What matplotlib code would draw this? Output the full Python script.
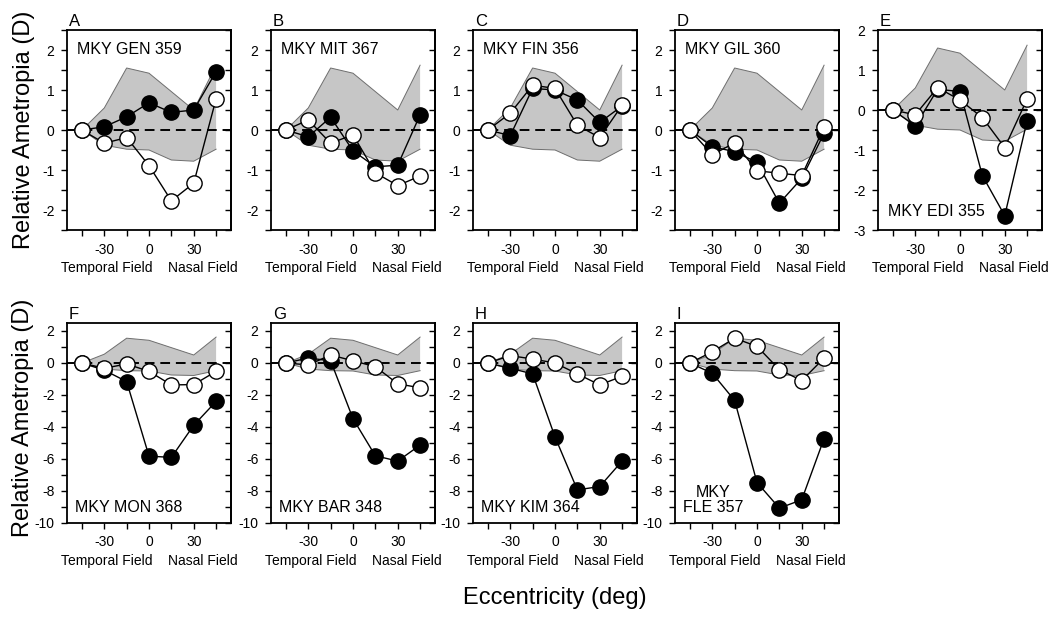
import matplotlib
matplotlib.use("Agg")
import matplotlib.pyplot as plt
from matplotlib.ticker import MultipleLocator, FixedLocator

plt.rcParams['font.family'] = ['Liberation Sans', 'DejaVu Sans']
plt.rcParams['axes.unicode_minus'] = False

ecc = [-45, -30, -15, 0, 15, 30, 45]

band_upper = [0, 0.55, 1.55, 1.42, 0.96, 0.5, 1.62]
band_lower = [0, -0.38, -0.48, -0.5, -0.75, -0.78, -0.48]

letters = ["A", "B", "C", "D", "E", "F", "G", "H", "I"]
names = ["MKY GEN 359", "MKY MIT 367", "MKY FIN 356", "MKY GIL 360", "MKY EDI 355",
         "MKY MON 368", "MKY BAR 348", "MKY KIM 364", "MKY\nFLE 357"]

filled_A = [0, 0.08, 0.33, 0.68, 0.44, 0.50, 1.46]
open_A = [0, -0.33, -0.19, -0.89, -1.77, -1.33, 0.78]
filled_B = [0, -0.17, 0.32, -0.52, -0.92, -0.88, 0.38]
open_B = [0, 0.25, -0.33, -0.12, -1.07, -1.39, -1.15]
filled_C = [0, -0.14, 1.04, 1.00, 0.75, 0.19, 0.60]
open_C = [0, 0.42, 1.12, 1.04, 0.12, -0.19, 0.62]
filled_D = [0, -0.42, -0.54, -0.81, -1.83, -1.21, -0.08]
open_D = [0, -0.62, -0.32, -1.02, -1.08, -1.14, 0.07]
filled_E = [0, -0.40, 0.52, 0.46, -1.64, -2.64, -0.27]
open_E = [0, -0.12, 0.56, 0.25, -0.19, -0.94, 0.27]
filled_F = [0, -0.45, -1.16, -5.82, -5.90, -3.89, -2.40]
open_F = [0, -0.33, -0.06, -0.52, -1.37, -1.35, -0.52]
filled_G = [0, 0.31, 0.14, -3.48, -5.80, -6.13, -5.13]
open_G = [0, -0.12, 0.50, 0.14, -0.23, -1.30, -1.55]
filled_H = [0, -0.33, -0.68, -4.62, -7.93, -7.72, -6.13]
open_H = [0, 0.46, 0.25, 0.0, -0.68, -1.37, -0.83]
filled_I = [0, -0.64, -2.34, -7.47, -9.07, -8.55, -4.72]
open_I = [0, 0.70, 1.55, 1.04, -0.41, -1.10, 0.31]

filled_all = [filled_A, filled_B, filled_C, filled_D, filled_E,
              filled_F, filled_G, filled_H, filled_I]
open_all = [open_A, open_B, open_C, open_D, open_E,
            open_F, open_G, open_H, open_I]

fig = plt.figure(figsize=(10.5, 6.2), dpi=100)

lefts = [67, 271, 473, 675, 878]
W, H = 1050, 620
aw, ah = 164, 200

for i in range(9):
    row = 0 if i < 5 else 1
    col = i if i < 5 else i - 5
    top = 30 if row == 0 else 323
    ax = fig.add_axes([lefts[col] / W, 1 - (top + ah) / H, aw / W, ah / H])

    if row == 0:
        if i == 4:
            ylim = (-3, 2)
        else:
            ylim = (-2.5, 2.5)
        major, minor = 1, 0.5
    else:
        ylim = (-10, 2.5)
        major, minor = 2, 1

    ax.fill_between(ecc, band_lower, band_upper, facecolor='#c6c6c6',
                    edgecolor='none', zorder=1)
    ax.plot(ecc, band_upper, color='#6e6e6e', lw=0.7, zorder=1.5)
    ax.plot(ecc, band_lower, color='#6e6e6e', lw=0.7, zorder=1.5)
    ax.axhline(0, color='black', lw=1.4, dashes=(5, 3), zorder=2)

    ax.plot(ecc, filled_all[i], '-', color='black', lw=1.0, marker='o', ms=11,
            mfc='black', mec='black', mew=1.0, zorder=3)
    ax.plot(ecc, open_all[i], '-', color='black', lw=1.0, marker='o', ms=11,
            mfc='white', mec='black', mew=1.0, zorder=4)

    ax.set_xlim(-55, 55)
    ax.set_ylim(*ylim)
    ax.xaxis.set_major_locator(FixedLocator([-30, 0, 30]))
    ax.xaxis.set_minor_locator(FixedLocator([-45, -15, 15, 45]))
    ax.yaxis.set_major_locator(MultipleLocator(major))
    ax.yaxis.set_minor_locator(MultipleLocator(minor))
    ax.tick_params(axis='both', which='both', direction='out', length=4,
                   width=1, labelsize=10, pad=5, top=False, right=False)
    for s in ax.spines.values():
        s.set_linewidth(1.3)

    sec = ax.secondary_yaxis('right')
    sec.yaxis.set_major_locator(MultipleLocator(minor))
    sec.tick_params(direction='in', length=4, width=1, labelright=False)
    sec.spines['right'].set_linewidth(1.3)

    ax.text(0.01, 1.005, letters[i], transform=ax.transAxes, fontsize=12,
            ha='left', va='bottom')
    ax.text(0.24, -0.19, "Temporal Field", transform=ax.transAxes,
            fontsize=10, ha='center', va='center')
    ax.text(0.83, -0.19, "Nasal Field", transform=ax.transAxes,
            fontsize=10, ha='center', va='center')

    if i < 4:
        ax.text(0.06, 0.9, names[i], transform=ax.transAxes, fontsize=11.5,
                ha='left', va='center', zorder=6)
    elif i == 4:
        ax.text(0.06, 0.09, names[i], transform=ax.transAxes, fontsize=11.5,
                ha='left', va='center', zorder=6)
    elif i == 8:
        ax.text(0.23, 0.115, names[i], transform=ax.transAxes, fontsize=11.5,
                ha='center', va='center', multialignment='center',
                linespacing=1.0, zorder=6)
    else:
        ax.text(0.05, 0.08, names[i], transform=ax.transAxes, fontsize=11.5,
                ha='left', va='center', zorder=6)

fig.text(24 / W, 1 - 130 / H, "Relative Ametropia (D)", rotation=90,
         fontsize=17, ha='center', va='center')
fig.text(23 / W, 1 - 418 / H, "Relative Ametropia (D)", rotation=90,
         fontsize=17, ha='center', va='center')
fig.text(555 / W, 1 - 598 / H, "Eccentricity (deg)", fontsize=17,
         ha='center', va='center')

fig.savefig("out.png", dpi=100)
